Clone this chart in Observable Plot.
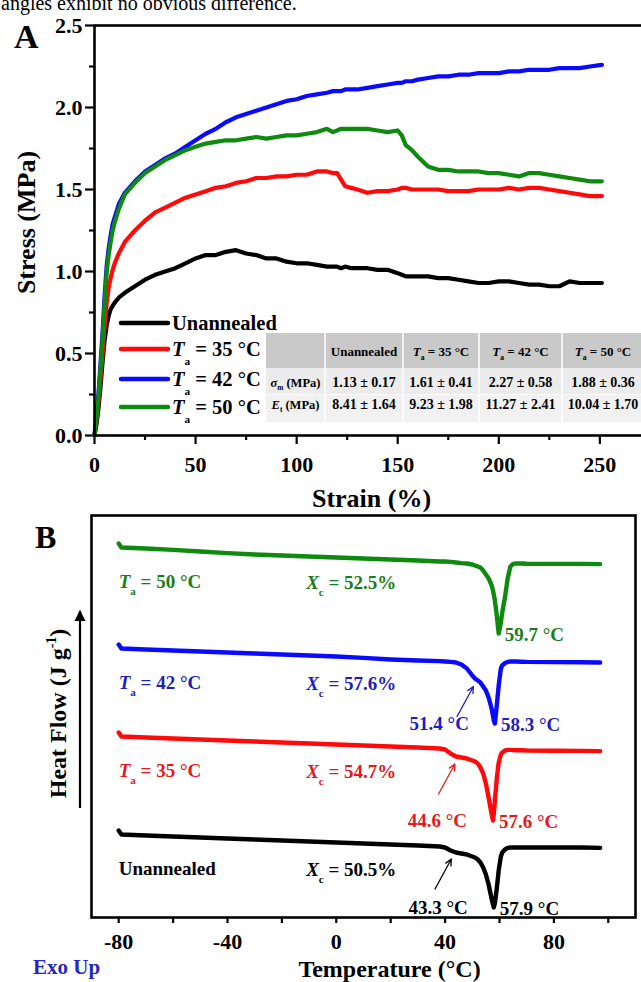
<!DOCTYPE html>
<html><head><meta charset="utf-8">
<script src="https://cdn.jsdelivr.net/npm/d3@7"></script>
<script src="https://cdn.jsdelivr.net/npm/@observablehq/plot@0.6"></script>
<style>
html,body{margin:0;padding:0;background:#fff;}
#wrap{position:relative;width:641px;height:982px;overflow:hidden;background:#fff;font-family:"Liberation Serif","Times New Roman",serif;}
#wrap > svg{position:absolute;left:0;max-width:none !important;}
</style></head><body><div id="wrap"></div>
<script>
// ---------- Panel A: tensile curves ----------
const strain = [0,1,2,3,4,5,6,7,8,9,10,12,15,20,25,30,35,40,45,50,55,60,65,70,75,80,85,90,95,100,105,110,115,118,120,122,124,127,130,135,140,145,150,152,154,157,160,165,170,175,180,185,190,195,200,205,210,215,220,225,230,235,240,245,251];
const stressUnannealed = [0,0.07,0.17,0.30,0.45,0.58,0.67,0.73,0.77,0.79,0.81,0.84,0.87,0.91,0.95,0.98,1.00,1.02,1.05,1.08,1.10,1.10,1.12,1.13,1.11,1.10,1.08,1.08,1.06,1.05,1.05,1.04,1.03,1.03,1.03,1.02,1.03,1.02,1.02,1.02,1.01,1.01,0.99,0.98,0.97,0.97,0.97,0.97,0.96,0.96,0.95,0.94,0.93,0.93,0.94,0.94,0.93,0.92,0.92,0.91,0.91,0.94,0.93,0.93,0.93];
const stress35 = [0,0.10,0.21,0.35,0.50,0.66,0.80,0.90,0.96,1.01,1.05,1.11,1.18,1.25,1.31,1.36,1.39,1.42,1.45,1.47,1.49,1.51,1.52,1.54,1.55,1.57,1.57,1.58,1.58,1.59,1.59,1.61,1.61,1.60,1.60,1.56,1.52,1.51,1.50,1.48,1.49,1.49,1.50,1.51,1.51,1.50,1.50,1.50,1.50,1.49,1.49,1.49,1.50,1.50,1.50,1.51,1.50,1.51,1.51,1.50,1.49,1.48,1.47,1.46,1.46];
const stress42 = [0,0.12,0.26,0.44,0.63,0.85,1.03,1.14,1.22,1.29,1.33,1.41,1.48,1.55,1.61,1.65,1.69,1.72,1.76,1.80,1.84,1.87,1.91,1.94,1.96,1.98,2.00,2.02,2.04,2.05,2.07,2.08,2.09,2.10,2.10,2.10,2.11,2.11,2.11,2.12,2.13,2.14,2.15,2.15,2.16,2.16,2.17,2.18,2.19,2.19,2.20,2.20,2.21,2.21,2.21,2.22,2.22,2.23,2.23,2.23,2.24,2.24,2.24,2.25,2.26];
const stress50 = [0,0.11,0.24,0.41,0.59,0.80,0.99,1.10,1.18,1.25,1.30,1.38,1.47,1.54,1.60,1.64,1.68,1.71,1.74,1.76,1.78,1.79,1.80,1.80,1.81,1.82,1.81,1.82,1.83,1.83,1.84,1.85,1.87,1.85,1.86,1.87,1.87,1.87,1.87,1.87,1.86,1.85,1.86,1.83,1.77,1.74,1.70,1.64,1.62,1.62,1.61,1.61,1.61,1.60,1.60,1.59,1.58,1.60,1.60,1.59,1.58,1.57,1.56,1.55,1.55];
const strainTicks = [0,50,100,150,200,250];
const strainMinor = [25,75,125,175,225,275];
const stressTicks = [0,0.5,1.0,1.5,2.0,2.5];
const stressMinor = [0.25,0.75,1.25,1.75,2.25];

const seriesNames = ["Unannealed","*T*_{a} = 35 °C","*T*_{a} = 42 °C","*T*_{a} = 50 °C"];
const seriesColors = ["#000000","#ff0a0a","#0a0aff","#0e8a0e"];
const seriesTextColors = ["#000000","#e3191c","#1e1eb8","#1a7d1a"];

// table values
const tableHeads = ["Unannealed","*T*_{a} = 35 °C","*T*_{a} = 42 °C","*T*_{a} = 50 °C"];
const sigmaMean = [1.13,1.61,2.27,1.88];
const sigmaSd = [0.17,0.41,0.58,0.36];
const etMean = [8.41,9.23,11.27,10.04];
const etSd = [1.64,1.98,2.41,1.70];

// ---------- Panel B: DSC curves ----------
const temperature = [-80,-79,-70,-60,-50,-40,-30,-20,-10,0,10,20,30,38,40,42,44,46,48,50,51,52,53,54,55,56,57,57.6,57.9,58.3,59,59.7,60.5,61,62,63,64,65,66,68,70,80,90,97];
const flowUnannealed = [21.75,20.75,20.5,20.25,20.0,19.75,19.5,19.25,19.0,18.75,18.5,18.25,18.0,17.75,17.5,16.75,16.25,16.0,15.75,15.25,15.0,14.5,13.75,12.5,10.75,8.25,5.0,3.25,2.5,3.5,7.25,11.75,15.25,16.25,17.0,17.4,17.5,17.5,17.5,17.5,17.5,17.5,17.5,17.4];
const flow35 = [46.25,45.25,45.0,44.75,44.5,44.25,44.0,43.75,43.5,43.25,43.0,42.75,42.5,42.25,42.0,41.0,40.25,40.0,39.75,39.25,39.0,38.5,37.5,36.0,33.5,30.0,26.25,24.25,25.75,29.25,34.75,38.75,40.75,41.25,41.75,41.9,41.9,41.85,41.8,41.8,41.75,41.7,41.65,41.6];
const flow42 = [68.25,67.25,67.0,66.75,66.5,66.25,66.0,65.75,65.5,65.25,64.9,64.5,64.25,64.1,64.0,63.9,63.75,63.25,62.25,60.5,59.75,59.25,58.75,57.75,56.75,55.0,52.5,50.5,49.25,48.5,53.0,58.0,62.25,63.0,63.6,63.9,64.0,64.0,64.0,63.95,63.9,63.85,63.8,63.75];
const flow50 = [93.5,92.5,92.25,91.9,91.5,91.1,90.75,90.5,90.25,90.0,89.75,89.5,89.25,89.0,89.0,88.9,88.75,88.6,88.5,88.25,88.0,87.75,87.5,86.75,85.75,84.75,83.25,81.75,80.75,79.25,75.5,71.0,73.75,76.25,80.0,84.75,87.75,88.4,88.5,88.5,88.45,88.4,88.4,88.35];
const dscXc = [50.5,54.7,57.6,52.5];
const dscPeak = [57.9,57.6,58.3,59.7];
const dscShoulder = [43.3,44.6,51.4,null];
const tempTicks = [-80,-40,0,40,80];
const tempMinor = [-60,-20,20,60,100];

const FONT = '"Liberation Serif","Times New Roman",serif';
const svgns = "http://www.w3.org/2000/svg";

function rich(el, src, fs, subShift = 0.4, subSize = 0.58) {
  const tokens = src.match(/\*[^*]+\*|_\{[^}]*\}|\^\{[^}]*\}|[^*_^]+/g) || [src];
  el.textContent = "";
  let cur = 0;
  for (const t of tokens) {
    let txt = t, shift = 0, italic = false, size = null;
    if (t[0] === "*") { txt = t.slice(1, -1); italic = true; }
    else if (t.startsWith("_{")) { txt = t.slice(2, -1); shift = subShift * fs; size = subSize * fs; }
    else if (t.startsWith("^{")) { txt = t.slice(2, -1); shift = -0.42 * fs; size = subSize * fs; }
    const ts = document.createElementNS(svgns, "tspan");
    ts.textContent = txt;
    if (italic) ts.setAttribute("font-style", "italic");
    if (size) ts.setAttribute("font-size", size);
    if (shift !== cur) { ts.setAttribute("dy", shift - cur); cur = shift; }
    el.appendChild(ts);
  }
}
function richifyAll(svg) {
  d3.select(svg).selectAll("text").each(function () {
    const s = this.textContent;
    if (/\*|_\{|\^\{/.test(s)) rich(this, s, parseFloat(getComputedStyle(this).fontSize));
  });
}

const wrap = document.getElementById("wrap");
const fmt1 = d => d.toFixed(1);
const fmtInt = d => String(d);
const noText = () => "";

// ---------- Plot A ----------
const tensile = [stressUnannealed, stress35, stress42, stress50];
const plotA = Plot.plot({
  width: 660, height: 505,
  marginLeft: 94, marginRight: 0, marginTop: 25, marginBottom: 70,
  x: {domain: [0, 280], label: null},
  y: {domain: [0, 2.5], label: null},
  style: {fontFamily: FONT, fontWeight: "bold", background: "transparent", color: "#000", overflow: "visible", maxWidth: "none"},
  marks: [
    Plot.axisX(strainTicks, {tickSize: 9, tickPadding: 12, fontSize: 22, strokeWidth: 2.2, tickFormat: fmtInt, label: null}),
    Plot.axisX(strainMinor, {tickSize: 5, tickFormat: noText, strokeWidth: 2.2, label: null}),
    Plot.axisY(stressTicks, {tickSize: 9, tickPadding: 3, fontSize: 22, strokeWidth: 2.2, tickFormat: fmt1, label: null}),
    Plot.axisY(stressMinor, {tickSize: 5, tickFormat: noText, strokeWidth: 2.2, label: null}),
    ...tensile.map((s, i) => Plot.line(s, {x: strain, y: s, stroke: seriesColors[i], strokeWidth: 4.2, strokeLinejoin: "round", strokeLinecap: "round"})),
    Plot.frame({stroke: "#000", strokeWidth: 2.6}),
    Plot.text(["Strain (%)"], {text: d => d, frameAnchor: "bottom", lineAnchor: "middle", textAnchor: "middle", dy: 63, dx: -6, fontSize: 26, fontWeight: "bold"}),
    Plot.text(["Stress (MPa)"], {text: d => d, frameAnchor: "left", lineAnchor: "middle", textAnchor: "middle", rotate: -90, dx: -68, dy: -8, fontSize: 26, fontWeight: "bold"})
  ]
});
plotA.style.top = "0px";
wrap.appendChild(plotA);

// ---------- Plot B ----------
const dsc = [flowUnannealed, flow35, flow42, flow50];
const interp = dsc.map(f => d3.scaleLinear().domain(temperature).range(f));
const bMarks = [
  Plot.axisX(tempTicks, {tickSize: 6, tickPadding: 10, fontSize: 22, strokeWidth: 2.2, tickFormat: fmtInt, label: null}),
  Plot.axisX(tempMinor, {tickSize: 6, tickFormat: noText, strokeWidth: 2.2, label: null}),
  Plot.frame({stroke: "#000", strokeWidth: 2.6})
];
dsc.forEach((f, i) => {
  bMarks.push(Plot.line(f, {x: temperature, y: f, stroke: seriesColors[i], strokeWidth: 4.4, strokeLinejoin: "round", strokeLinecap: "round"}));
  const col = seriesTextColors[i];
  bMarks.push(Plot.text([i], {x: temperature[0], y: f[1], dy: 34, text: () => seriesNames[i], textAnchor: "start", fill: col, fontSize: 19, fontWeight: "bold"}));
  bMarks.push(Plot.text([i], {x: 5.5, y: f[1], dy: 35, text: () => `*X*_{c} = ${dscXc[i].toFixed(1)}%`, textAnchor: "middle", fill: col, fontSize: 19, fontWeight: "bold"}));
  const vmin = d3.min(f);
  bMarks.push(Plot.text([i], {x: dscPeak[i], y: vmin, dx: 6, dy: 1, text: () => `${dscPeak[i].toFixed(1)} °C`, textAnchor: "start", fill: col, fontSize: 19, fontWeight: "bold"}));
  if (dscShoulder[i] != null) {
    const sh = dscShoulder[i];
    const tipX = sh - 1.0, tipY = interp[i](sh) - 1.8;
    bMarks.push(Plot.text([i], {x: dscPeak[i], y: vmin, dx: -26, dy: 0, text: () => `${sh.toFixed(1)} °C`, textAnchor: "end", fill: col, fontSize: 19, fontWeight: "bold"}));
    bMarks.push(Plot.arrow([i], {x1: tipX - 6, y1: tipY - 7.5, x2: tipX, y2: tipY, stroke: col, strokeWidth: 1.3, headLength: 8, headAngle: 50}));
  }
});
bMarks.push(Plot.text(["Temperature (°C)"], {text: d => d, frameAnchor: "bottom", lineAnchor: "middle", textAnchor: "middle", dy: 52, dx: 26, fontSize: 24, fontWeight: "bold"}));
bMarks.push(Plot.text(["Heat Flow (J g^{-1})"], {text: d => d, frameAnchor: "left", lineAnchor: "middle", textAnchor: "middle", rotate: -90, dx: -33, dy: -3, fontSize: 24, fontWeight: "bold"}));

const plotB = Plot.plot({
  width: 641, height: 477,
  marginLeft: 91, marginRight: 6, marginTop: 10, marginBottom: 65,
  x: {domain: [-90, 110], label: null},
  y: {domain: [0, 100.5], label: null, axis: null},
  style: {fontFamily: FONT, fontWeight: "bold", background: "transparent", color: "#000", overflow: "visible", maxWidth: "none"},
  marks: bMarks
});
plotB.style.top = "505px";
wrap.appendChild(plotB);

// ---------- Overlay: page text, panel letters, legend, table ----------
const ov = d3.select(wrap).append("svg").attr("width", 641).attr("height", 982)
  .style("top", "0px").style("pointer-events", "none")
  .attr("font-family", FONT).attr("font-weight", "bold");

function addText(x, y, markup, fs, opts = {}) {
  const t = ov.append("text").attr("x", x).attr("y", y).attr("font-size", fs)
    .attr("text-anchor", opts.anchor || "start").attr("fill", opts.fill || "#000");
  if (opts.weight) t.attr("font-weight", opts.weight);
  rich(t.node(), markup, fs, opts.subShift ?? 0.4, opts.subSize ?? 0.58);
  return t;
}

addText(1, 10, "angles exhibit no obvious difference.", 20, {weight: "normal"});
addText(14, 48, "A", 34);
addText(35, 548, "B", 32);
addText(33, 974, "Exo Up", 21, {fill: "#2626c4"});

// Heat flow arrow
ov.append("defs").append("marker").attr("id", "ah").attr("viewBox", "0 0 10 10").attr("refX", 9).attr("refY", 5)
  .attr("markerWidth", 5).attr("markerHeight", 6).attr("orient", "auto")
  .append("path").attr("d", "M0,0 L10,5 L0,10 Z").attr("fill", "#000");
ov.append("line").attr("x1", 80).attr("x2", 80).attr("y1", 808).attr("y2", 611)
  .attr("stroke", "#000").attr("stroke-width", 2.2).attr("marker-end", "url(#ah)");

// Legend (panel A)
const legendRows = [323, 349, 379, 407];
seriesNames.forEach((name, i) => {
  ov.append("line").attr("x1", 121).attr("x2", 168).attr("y1", legendRows[i]).attr("y2", legendRows[i])
    .attr("stroke", seriesColors[i]).attr("stroke-width", 4.5).attr("stroke-linecap", "round");
  addText(172, legendRows[i] + 7, name, 20.5, {subShift: 0.45, subSize: 0.55});
});

// Table (panel A)
const colEdges = [266, 325, 403, 479, 562, 644];
const tb = ov.append("g");
tb.append("rect").attr("x", 266).attr("y", 333).attr("width", 380).attr("height", 35).attr("fill", "#c9c9c9");
tb.append("rect").attr("x", 266).attr("y", 368).attr("width", 380).attr("height", 26).attr("fill", "#ececec");
tb.append("rect").attr("x", 266).attr("y", 395).attr("width", 380).attr("height", 27).attr("fill", "#f1f1f1");
colEdges.slice(1, -1).forEach(x => tb.append("line").attr("x1", x).attr("x2", x).attr("y1", 333).attr("y2", 422).attr("stroke", "#ffffff").attr("stroke-width", 1.5));
tb.append("line").attr("x1", 266).attr("x2", 641).attr("y1", 394.5).attr("y2", 394.5).attr("stroke", "#ffffff").attr("stroke-width", 1.2);
const colMid = d3.range(5).map(k => (colEdges[k] + colEdges[k + 1]) / 2);
tableHeads.forEach((h, k) => addText(colMid[k + 1], 351 + 4.5, h, 13, {anchor: "middle", subShift: 0.35}));
addText(colMid[0], 382 + 4.5, "*σ*_{m} (MPa)", 12.5, {anchor: "middle", subShift: 0.3});
addText(colMid[0], 404 + 4.5, "*E*_{t} (MPa)", 12.5, {anchor: "middle", subShift: 0.3});
sigmaMean.forEach((m, k) => addText(colMid[k + 1], 382 + 5, `${m.toFixed(2)} ± ${sigmaSd[k].toFixed(2)}`, 14, {anchor: "middle"}));
etMean.forEach((m, k) => addText(colMid[k + 1], 404 + 5, `${m.toFixed(2)} ± ${etSd[k].toFixed(2)}`, 14, {anchor: "middle"}));

richifyAll(plotA);
richifyAll(plotB);
</script></body></html>
